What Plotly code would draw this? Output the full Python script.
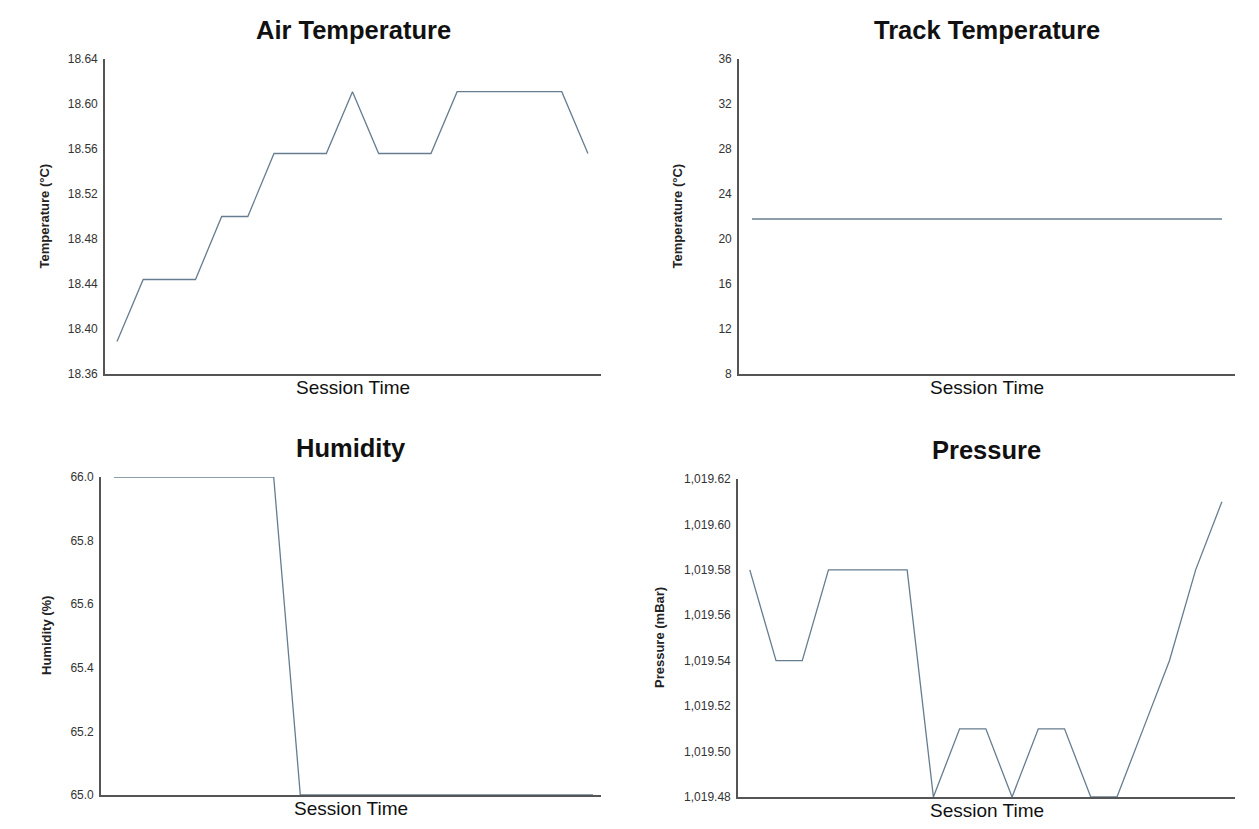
import plotly.graph_objects as go

W, H = 1259, 829

session_idx = list(range(19))

air_temp = [18.389, 18.444, 18.444, 18.444, 18.500, 18.500, 18.556, 18.556, 18.556,
            18.611, 18.556, 18.556, 18.556, 18.611, 18.611, 18.611, 18.611, 18.611, 18.556]
track_temp = [21.78] * 19
humidity = [66.0, 66.0, 66.0, 66.0, 66.0, 66.0, 66.0,
            65.0, 65.0, 65.0, 65.0, 65.0, 65.0, 65.0, 65.0, 65.0, 65.0, 65.0, 65.0]
pressure = [1019.58, 1019.54, 1019.54, 1019.58, 1019.58, 1019.58, 1019.58, 1019.48,
            1019.51, 1019.51, 1019.48, 1019.51, 1019.51, 1019.48, 1019.48, 1019.51,
            1019.54, 1019.58, 1019.61]

titles = ["Air Temperature", "Track Temperature", "Humidity", "Pressure"]
ytitles = ["Temperature (°C)", "Temperature (°C)", "Humidity (%)", "Pressure (mBar)"]

LINE = "#667d8f"
AX = "#555555"
FONT = "Liberation Sans, Arial, sans-serif"

# pixel boxes: (x0, x1, ytop, ybottom)
boxes = [(105, 601, 59, 374), (739, 1235, 59, 374), (101, 601, 477, 795), (738, 1235, 479, 797)]
xranges = [[-0.46, 18.5], [-0.5, 18.5], [-0.49, 18.3], [-0.45, 18.5]]
yranges = [[18.36, 18.64], [8, 36], [65.0, 66.0], [1019.48, 1019.62]]
dticks = [0.04, 4, 0.2, 0.02]
fmts = [".2f", "d", ".1f", ",.2f"]
series = [air_temp, track_temp, humidity, pressure]

fig = go.Figure()
annotations = []
for i in range(4):
    n = "" if i == 0 else str(i + 1)
    x0, x1, yt, yb = boxes[i]
    fig.add_trace(go.Scatter(x=session_idx, y=series[i], mode="lines",
                             line=dict(color=LINE, width=1.3),
                             xaxis="x" + n, yaxis="y" + n, showlegend=False,
                             cliponaxis=False))
    fig.layout["xaxis" + n] = dict(domain=[x0 / W, x1 / W], range=xranges[i],
                                   anchor="y" + n, showticklabels=False, ticks="",
                                   showgrid=False, zeroline=False, showline=True,
                                   linecolor=AX, linewidth=1.6, automargin=False)
    fig.layout["yaxis" + n] = dict(domain=[1 - yb / H, 1 - yt / H], range=yranges[i],
                                   anchor="x" + n, dtick=dticks[i], tick0=yranges[i][0],
                                   tickformat=fmts[i], showgrid=False, zeroline=False,
                                   showline=True, linecolor=AX, linewidth=1.6,
                                   ticks="outside", ticklen=3, tickcolor="rgba(0,0,0,0)",
                                   automargin=False,
                                   tickfont=dict(size=12, color="#333333", family=FONT))
    cx = (x0 + x1) / 2
    annotations.append(dict(text="<b>" + titles[i] + "</b>", x=cx / W, y=1 - (yt - 29) / H,
                            xref="paper", yref="paper", showarrow=False,
                            font=dict(size=25.5, color="#111111", family=FONT),
                            xanchor="center", yanchor="middle"))
    annotations.append(dict(text="Session Time", x=cx / W, y=1 - (yb + 13) / H,
                            xref="paper", yref="paper", showarrow=False,
                            font=dict(size=19, color="#111111", family=FONT),
                            xanchor="center", yanchor="middle"))
ytx = [44, 677, 46, 659]
for i in range(4):
    x0, x1, yt, yb = boxes[i]
    annotations.append(dict(text="<b>" + ytitles[i] + "</b>", x=ytx[i] / W,
                            y=1 - ((yt + yb) / 2) / H, xref="paper", yref="paper",
                            showarrow=False, textangle=-90,
                            font=dict(size=13, color="#222222", family=FONT),
                            xanchor="center", yanchor="middle"))

fig.update_layout(width=W, height=H, margin=dict(l=0, r=0, t=0, b=0, autoexpand=False),
                  paper_bgcolor="white", plot_bgcolor="white",
                  annotations=annotations, font=dict(family=FONT))

fig.write_html("out.html")
